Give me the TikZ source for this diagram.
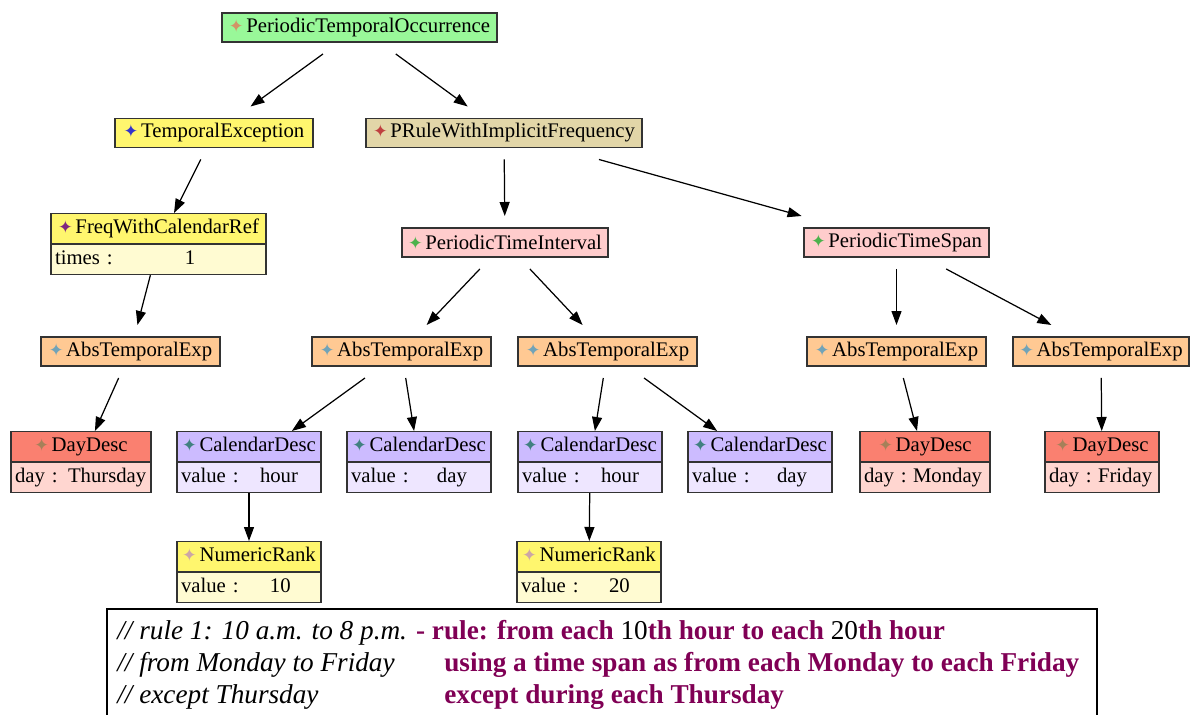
\documentclass[tikz,border=0pt]{standalone}
\usepackage{fontspec}
\setmainfont{Liberation Serif}
\newfontfamily\symfont{DejaVu Sans}
\usetikzlibrary{arrows.meta,shapes.multipart}

\definecolor{occgreen}{HTML}{99F899}
\definecolor{excyellow}{HTML}{FFF66E}
\definecolor{ruletan}{HTML}{E2D6A8}
\definecolor{spanpink}{HTML}{FFCCCC}
\definecolor{exporange}{HTML}{FFC993}
\definecolor{daysalmon}{HTML}{FA8070}
\definecolor{daypale}{HTML}{FFD6D0}
\definecolor{callilac}{HTML}{CCBBFF}
\definecolor{calpale}{HTML}{EEE6FF}
\definecolor{rankpale}{HTML}{FFFBD2}
\definecolor{notepurple}{HTML}{800055}

\newcommand{\gem}[1]{{\color{#1}\symfont\fontsize{10}{10}\selectfont ✦}\kern1.5pt}
\newcommand{\rowstrut}{\rule[-0.19cm]{0pt}{0.58cm}}
\newcommand{\attrrow}[3]{\rowstrut\makebox[#2][l]{#1}#3\hskip0pt plus1filll\null}

\begin{document}
\begin{tikzpicture}[x=0.02cm, y=-0.02cm,
    box/.style={draw=black!80, line width=0.8pt, font=\fontsize{11.8}{14}\selectfont},
    cls/.style={box, fill=#1, minimum height=0.58cm, inner xsep=2pt, inner ysep=0pt, outer sep=0.24cm},
    rec/.style={box, rectangle split, rectangle split parts=2, text width=#1, align=center,
      inner xsep=0.08cm, inner ysep=0pt, anchor=north},
    dayrec/.style={rec=#1, rectangle split part fill={daysalmon,daypale}},
    calrec/.style={rec=#1, rectangle split part fill={callilac,calpale}},
    rankrec/.style={rec=#1, rectangle split part fill={excyellow,rankpale}},
    link/.style={-{Triangle[length=0.28cm,width=0.2cm]}, line width=0.7pt}]
  \useasboundingbox (0,0) rectangle (1190,715);

  % classes
  \node[cls=occgreen, minimum width=5.5cm] (occ) at (359.5,27.5) {\gem{brown!70!pink}PeriodicTemporalOccurrence};
  \node[cls=excyellow, minimum width=3.96cm] (exc) at (214,133) {\gem{blue!60!gray}TemporalException};
  \node[cls=ruletan, minimum width=5.52cm] (prule) at (504,133) {\gem{red!50!gray}PRuleWithImplicitFrequency};
  \node[rec=4.14cm, rectangle split part fill={excyellow,rankpale}] (freq) at (158.5,213)
    {\rowstrut\gem{violet!70!gray}FreqWithCalendarRef \nodepart{two}\attrrow{times :}{2.6cm}{1}};
  \node[cls=spanpink, minimum width=4.12cm] (tint) at (505,242.5) {\gem{green!40!gray}PeriodicTimeInterval};
  \node[cls=spanpink, minimum width=3.7cm] (tspan) at (896.5,242.5) {\gem{green!40!gray}PeriodicTimeSpan};

  \node[cls=exporange, minimum width=3.58cm] (abs-a) at (130.5,351.5) {\gem{cyan!40!gray}AbsTemporalExp};
  \node[cls=exporange, minimum width=3.58cm] (abs-b) at (401.5,351.5) {\gem{cyan!40!gray}AbsTemporalExp};
  \node[cls=exporange, minimum width=3.58cm] (abs-c) at (607.5,351.5) {\gem{cyan!40!gray}AbsTemporalExp};
  \node[cls=exporange, minimum width=3.58cm] (abs-d) at (896.5,351.5) {\gem{cyan!40!gray}AbsTemporalExp};
  \node[cls=exporange, minimum width=3.52cm] (abs-e) at (1101,351.5) {\gem{cyan!40!gray}AbsTemporalExp};

  \node[dayrec=2.64cm] (day-thu) at (81,431) {\rowstrut\gem{brown!60!gray}DayDesc \nodepart{two}\attrrow{day :}{1.06cm}{Thursday}};
  \node[calrec=2.72cm] (cal-a) at (249,431) {\rowstrut\gem{teal!50!gray}CalendarDesc \nodepart{two}\attrrow{value :}{1.58cm}{hour}};
  \node[calrec=2.72cm] (cal-b) at (419,431) {\rowstrut\gem{teal!50!gray}CalendarDesc \nodepart{two}\attrrow{value :}{1.72cm}{day}};
  \node[calrec=2.72cm] (cal-c) at (590,431) {\rowstrut\gem{teal!50!gray}CalendarDesc \nodepart{two}\attrrow{value :}{1.58cm}{hour}};
  \node[calrec=2.72cm] (cal-d) at (760,431) {\rowstrut\gem{teal!50!gray}CalendarDesc \nodepart{two}\attrrow{value :}{1.70cm}{day}};
  \node[dayrec=2.44cm] (day-mon) at (925,431) {\rowstrut\gem{brown!60!gray}DayDesc \nodepart{two}\attrrow{day :}{0.98cm}{Monday}};
  \node[dayrec=2.12cm] (day-fri) at (1102,431) {\rowstrut\gem{brown!60!gray}DayDesc \nodepart{two}\attrrow{day :}{0.98cm}{Friday}};

  \node[rankrec=2.72cm] (rank-a) at (249,541) {\rowstrut\gem{pink!60!gray}NumericRank \nodepart{two}\attrrow{value :}{1.78cm}{10}};
  \node[rankrec=2.72cm] (rank-b) at (589,541) {\rowstrut\gem{pink!60!gray}NumericRank \nodepart{two}\attrrow{value :}{1.76cm}{20}};

  % links
  \draw[link] (occ) -- (exc);
  \draw[link] (occ) -- (prule);
  \draw[link] (exc) -- (freq);
  \draw[link] (freq) -- (abs-a);
  \draw[link] (abs-a) -- (day-thu);
  \draw[link] (prule) -- (tint);
  \draw[link] (prule) -- (tspan);
  \draw[link] (tint) -- (abs-b);
  \draw[link] (tint) -- (abs-c);
  \draw[link] (abs-b) -- (cal-a);
  \draw[link] (abs-b) -- (cal-b);
  \draw[link] (abs-c) -- (cal-c);
  \draw[link] (abs-c) -- (cal-d);
  \draw[link] (tspan) -- (abs-d);
  \draw[link] (tspan) -- (abs-e);
  \draw[link] (abs-d) -- (day-mon);
  \draw[link] (abs-e) -- (day-fri);
  \draw[link] (cal-a) -- (rank-a);
  \draw[link] (cal-c) -- (rank-b);

  % rule text
  \draw[line width=0.6pt] (107,720) |- (1097,609) -- (1097,720);
  \begin{scope}[every node/.style={anchor=base west, inner sep=0pt, font=\fontsize{15.5}{18}\selectfont}]
    \node (note-a) at (117,640) {\textit{// rule 1: 10 a.m. to 8 p.m.} {\bfseries\color{notepurple}- rule: from each }10{\bfseries\color{notepurple}th hour to each }20{\bfseries\color{notepurple}th hour}};
    \node (note-b) at (117,672) {\textit{// from Monday to Friday}};
    \node (note-b-txt) at (444,672) {\bfseries\color{notepurple}using a time span as from each Monday to each Friday};
    \node (note-c) at (117,704) {\textit{// except Thursday}};
    \node (note-c-txt) at (444,704) {\bfseries\color{notepurple}except during each Thursday};
  \end{scope}
\end{tikzpicture}
\end{document}
